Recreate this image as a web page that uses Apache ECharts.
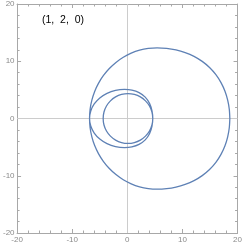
<!DOCTYPE html>
<html>
<head>
<meta charset="utf-8">
<script src="https://cdn.jsdelivr.net/npm/echarts@6/dist/echarts.min.js"></script>
<style>html,body{margin:0;padding:0;background:#fff}#c{width:245px;height:245px}</style>
</head>
<body>
<div id="c"></div>
<script>
// Curve points, listed in the order the curve is traced
var outerUpper = [[18.6,0],[18.5,1.61],[18.21,3.21],[17.72,4.77],[17.0,6.27],[16.07,7.66],[14.92,8.91],[13.59,9.98],[12.1,10.86],[10.5,11.52],[8.83,11.99],[7.13,12.26],[5.4,12.35],[3.8,12.24],[2.23,11.93],[0.71,11.41],[-0.73,10.7],[-2.06,9.8],[-3.26,8.73],[-4.32,7.52],[-5.21,6.18],[-5.92,4.73],[-6.43,3.2],[-6.75,1.61],[-6.85,0]];
var middleLower = [[-6.63,-1.31],[-6.0,-2.54],[-4.99,-3.59],[-3.68,-4.4],[-2.14,-4.91],[-0.5,-5.08],[0.83,-4.96],[2.13,-4.53],[3.25,-3.74],[4.05,-2.62],[4.48,-1.33],[4.62,0]];
var innerLoop = [[4.47,1.13],[4.02,2.18],[3.3,3.08],[2.37,3.77],[1.28,4.2],[0.12,4.35],[-1.05,4.2],[-2.13,3.77],[-3.06,3.08],[-3.78,2.18],[-4.23,1.13],[-4.38,0],[-4.23,-1.13],[-3.78,-2.18],[-3.06,-3.08],[-2.13,-3.77],[-1.05,-4.2],[0.12,-4.35],[1.28,-4.2],[2.37,-3.77],[3.3,-3.08],[4.02,-2.18],[4.47,-1.13],[4.62,0]];
var middleUpper = [[4.48,1.33],[4.05,2.62],[3.25,3.74],[2.13,4.53],[0.83,4.96],[-0.5,5.08],[-2.14,4.91],[-3.68,4.4],[-4.99,3.59],[-6.0,2.54],[-6.63,1.31],[-6.85,0]];
var outerLower = [[-6.75,-1.61],[-6.43,-3.2],[-5.92,-4.73],[-5.21,-6.18],[-4.32,-7.52],[-3.26,-8.73],[-2.06,-9.8],[-0.73,-10.7],[0.71,-11.41],[2.23,-11.93],[3.8,-12.24],[5.4,-12.35],[7.13,-12.26],[8.83,-11.99],[10.5,-11.52],[12.1,-10.86],[13.59,-9.98],[14.92,-8.91],[16.07,-7.66],[17.0,-6.27],[17.72,-4.77],[18.21,-3.21],[18.5,-1.61],[18.6,0]];
var axisMin = -20, axisMax = 20, axisStep = 10;
var plotLabel = '(1,  2,  0)';

var path = [].concat(outerUpper, middleLower, innerLoop, middleUpper, outerLower);
var frameColor = '#a8a8a8';
function ax(pos, showLabel) {
  return {
    type: 'value', min: axisMin, max: axisMax, interval: axisStep, position: pos,
    axisLine: { show: true, onZero: false, lineStyle: { color: frameColor, width: 1 } },
    axisTick: { show: true, inside: true, length: 4, lineStyle: { color: frameColor } },
    minorTick: { show: true, splitNumber: 5, length: 2.5, lineStyle: { color: frameColor } },
    splitLine: { show: false },
    axisLabel: { show: showLabel, color: '#8a8a8a', fontSize: 8, fontFamily: 'Liberation Sans', margin: 2.5, showMinLabel: true, showMaxLabel: true }
  };
}
var chart = echarts.init(document.getElementById('c'), null, { renderer: 'canvas' });
chart.setOption({
  animation: false,
  grid: { left: 14, right: 5, top: 3, bottom: 12 },
  xAxis: [ax('bottom', true), ax('top', false)],
  yAxis: [ax('left', true), ax('right', false)],
  series: [{
    type: 'line', data: path, smooth: 0.3, symbol: 'none', clip: true,
    lineStyle: { color: '#5e81b5', width: 1.3 },
    markLine: {
      silent: true, symbol: ['none', 'none'], label: { show: false },
      lineStyle: { color: '#cccccc', type: 'solid', width: 1 },
      data: [{ xAxis: 0 }, { yAxis: 0 }],
      z: 1
    },
    z: 3
  }],
  graphic: [{
    type: 'text', x: 63, y: 20,
    style: { text: plotLabel, fill: '#000', fontSize: 10.5, fontFamily: 'Liberation Sans', align: 'center', verticalAlign: 'middle' }
  }]
});
</script>
</body>
</html>
